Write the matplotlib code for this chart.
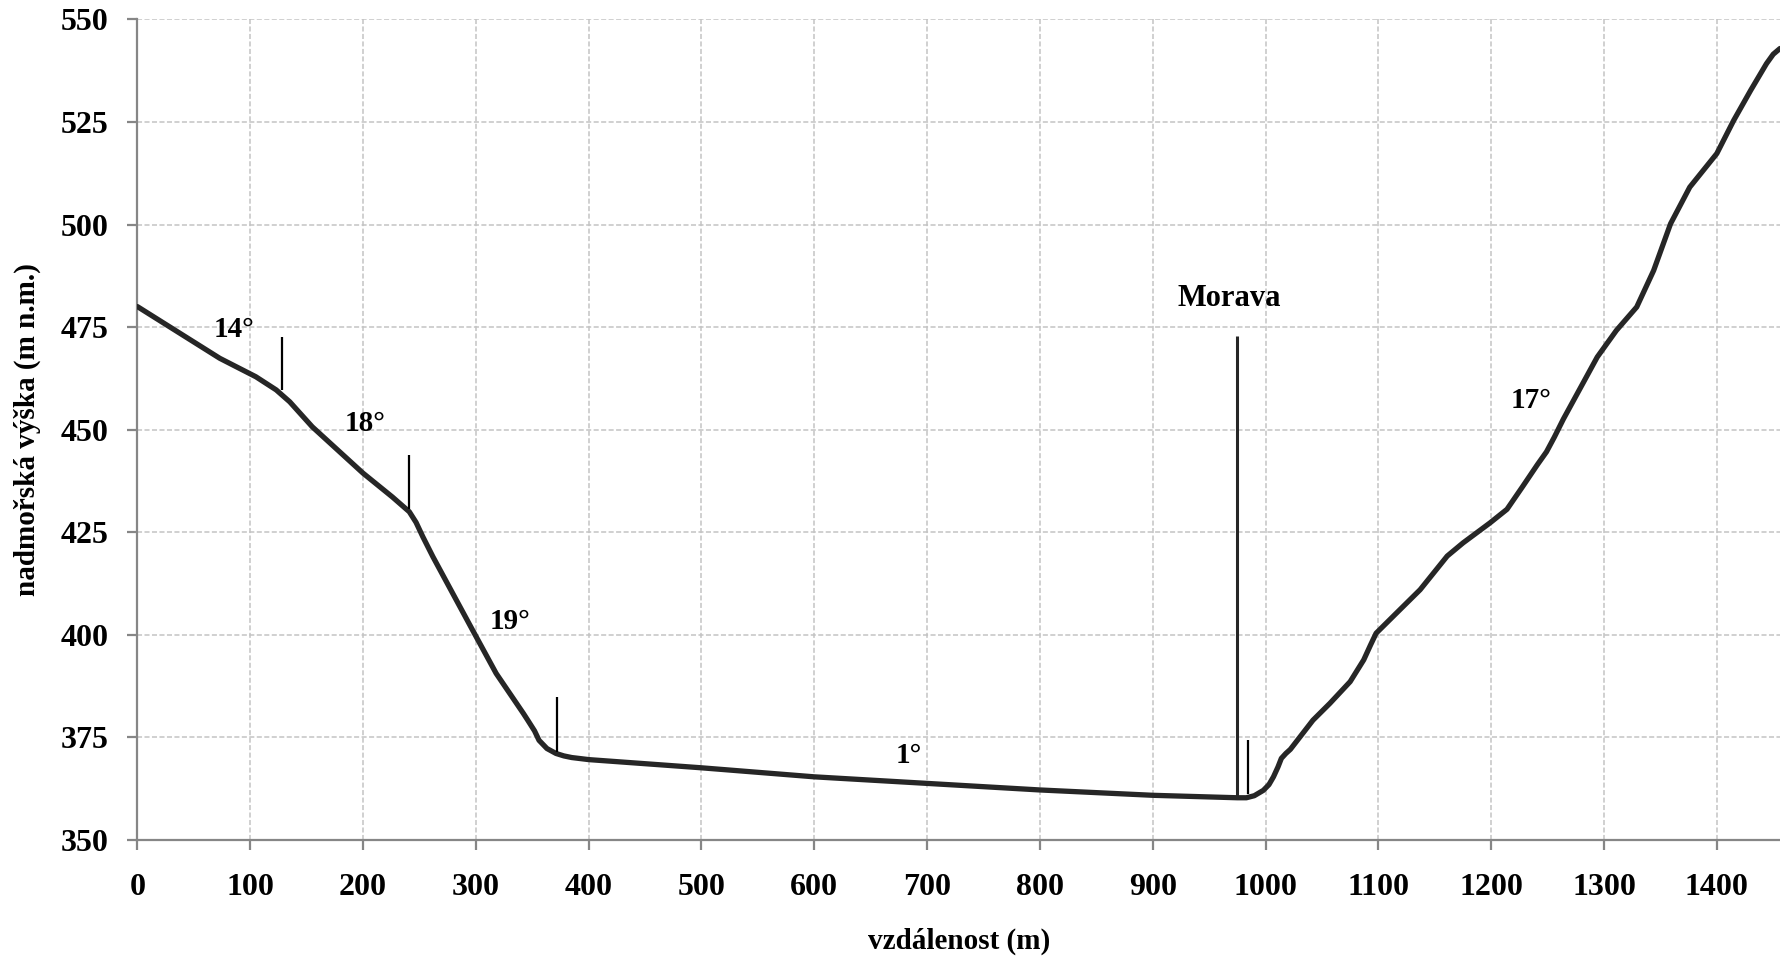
import matplotlib
matplotlib.use("Agg")
import matplotlib.pyplot as plt

# profil udoli - vzdalenost (m) a nadmorska vyska (m n.m.)
dist = [0, 73, 105, 123, 135, 155, 200, 226, 241, 247, 253, 262, 297, 318, 342,
        346, 352, 356, 363, 371, 378, 385, 400, 500, 600, 700, 800, 900, 975,
        983, 990, 998, 1003, 1007, 1011, 1014, 1018, 1022, 1042, 1057, 1075,
        1087, 1093, 1098, 1116, 1137, 1161, 1175, 1199, 1214, 1228, 1241, 1249,
        1256, 1264, 1294, 1311, 1329, 1344, 1359, 1376, 1400, 1415, 1430, 1444,
        1450, 1456]
elev = [480, 467.4, 462.9, 459.7, 456.8, 450.7, 439.4, 433.6, 430, 427.4, 423.9,
        419, 401.2, 390.6, 380.9, 379.2, 376.6, 374.3, 372.3, 371.1, 370.5,
        370.1, 369.6, 367.6, 365.4, 363.8, 362.2, 360.9, 360.3, 360.3, 360.8,
        362.1, 363.5, 365.4, 367.8, 369.9, 371.1, 372.1, 379.2, 383.3, 388.6,
        393.9, 397.5, 400.4, 405.3, 411, 419.2, 422.4, 427.3, 430.6, 436.2,
        441.5, 444.6, 448.2, 452.6, 467.7, 474.2, 479.9, 488.8, 500.2, 509.1,
        517.3, 525.4, 532.7, 539.2, 541.5, 542.9]

# hranice useku sklonu
break_x = [128, 241, 372, 984]
break_lo = [459.7, 430.6, 371.5, 361.3]
break_hi = [472.5, 443.8, 384.9, 374.3]

# sklony
slope_txt = ["14°", "18°", "19°", "1°", "17°"]
slope_x = [86, 202, 330, 684, 1235]
slope_y = [474.3, 451.5, 403.2, 370.7, 457.1]

# reka
river_x = 975
river_lo = 360.3
river_hi = 472.8
river_name = "Morava"
river_lbl = (968, 482)

plt.rcParams['font.family'] = ['Liberation Serif', 'DejaVu Serif']
plt.rcParams['font.weight'] = 'bold'

fig = plt.figure(figsize=(17.8, 9.63), dpi=100)
ax = fig.add_axes([0.0772, 0.1277, 0.9228, 0.8522])

ax.plot(dist, elev, color='#262626', lw=3.8, solid_joinstyle='round',
        solid_capstyle='round', zorder=3)

ax.vlines(break_x, break_lo, break_hi, color='black', lw=1.6, zorder=4)
ax.vlines(river_x, river_lo, river_hi, color='#262626', lw=2.2, zorder=4)

for t, x, y in zip(slope_txt, slope_x, slope_y):
    ax.text(x, y, t, ha='center', va='center', fontsize=21, fontweight='bold')
ax.text(river_lbl[0], river_lbl[1], river_name, ha='center', va='center',
        fontsize=22, fontweight='bold')

ax.set_xlim(0, 1456)
ax.set_ylim(350, 550)
ax.set_xticks(range(0, 1401, 100))
ax.set_yticks(range(350, 551, 25))

ax.grid(True, color='#c3c3c3', lw=1.1, ls=(0, (3.3, 1.6)))
ax.set_axisbelow(True)

for s in ['top', 'right']:
    ax.spines[s].set_visible(False)
for s in ['left', 'bottom']:
    ax.spines[s].set_color('#868686')
    ax.spines[s].set_linewidth(1.6)

ax.tick_params(axis='both', colors='#868686', width=1.6, length=7,
               labelcolor='black', labelsize=23)
ax.tick_params(axis='x', pad=17)
ax.tick_params(axis='y', pad=14)
for lab in ax.get_xticklabels() + ax.get_yticklabels():
    lab.set_fontweight('bold')

ax.set_xlabel('vzdálenost (m)', fontsize=21, fontweight='bold', labelpad=18)
ax.set_ylabel('nadmořská výška (m n.m.)', fontsize=21, fontweight='bold', labelpad=14)

fig.savefig('out.png', dpi=100)
